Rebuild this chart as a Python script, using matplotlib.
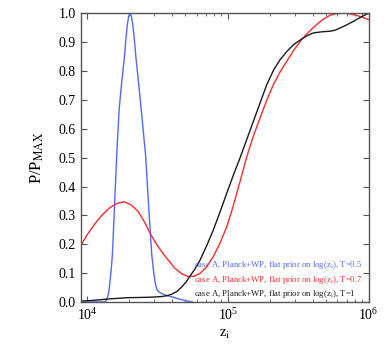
import numpy as np
import matplotlib
matplotlib.use("Agg")
import matplotlib.pyplot as plt

plt.rcParams['font.family'] = ['Liberation Serif', 'DejaVu Serif']
plt.rcParams['mathtext.fontset'] = 'stix'

logz_05 = [3.957, 4.10, 4.128, 4.140, 4.150, 4.158, 4.166, 4.173, 4.180, 4.188,
           4.196, 4.204, 4.211, 4.220, 4.229, 4.247, 4.265, 4.276, 4.286, 4.296,
           4.3055, 4.315, 4.325, 4.335, 4.348, 4.366, 4.384, 4.400, 4.416, 4.427,
           4.438, 4.449, 4.460, 4.472, 4.483, 4.492, 4.500, 4.520, 4.550, 4.602,
           4.650, 4.696, 4.75]
p_05 = [0.0, 0.0, 0.0, 0.008, 0.025, 0.047, 0.085, 0.12, 0.163, 0.25,
        0.34, 0.43, 0.51, 0.595, 0.672, 0.765, 0.845, 0.91, 0.96, 0.99,
        1.0, 0.99, 0.96, 0.915, 0.845, 0.76, 0.672, 0.59, 0.51, 0.42,
        0.33, 0.245, 0.163, 0.11, 0.07, 0.05, 0.04, 0.032, 0.025, 0.018,
        0.011, 0.005, 0.0]

logz_07 = [3.957, 4.000, 4.057, 4.110, 4.163, 4.215, 4.265, 4.315, 4.364, 4.405,
           4.448, 4.490, 4.531, 4.580, 4.625, 4.675, 4.720, 4.760, 4.803, 4.850,
           4.897, 4.945, 4.993, 5.030, 5.064, 5.100, 5.133, 5.180, 5.229, 5.276,
           5.324, 5.372, 5.419, 5.470, 5.525, 5.580, 5.632, 5.680, 5.726, 5.760,
           5.798, 5.835, 5.869, 5.905, 5.940, 5.970, 6.0]
p_07 = [0.197, 0.232, 0.272, 0.303, 0.327, 0.342, 0.347, 0.336, 0.313, 0.280,
        0.238, 0.203, 0.174, 0.143, 0.117, 0.097, 0.088, 0.089, 0.099, 0.122,
        0.157, 0.204, 0.261, 0.318, 0.377, 0.440, 0.500, 0.572, 0.637, 0.698,
        0.753, 0.797, 0.834, 0.873, 0.909, 0.938, 0.961, 0.980, 0.993, 0.998,
        1.0, 1.0, 0.998, 0.994, 0.989, 0.984, 0.978]

logz_1 = [3.957, 4.057, 4.163, 4.230, 4.293, 4.350, 4.412, 4.470, 4.531, 4.570,
          4.602, 4.640, 4.673, 4.705, 4.732, 4.768, 4.803, 4.850, 4.897, 4.945,
          4.993, 5.040, 5.087, 5.135, 5.182, 5.230, 5.277, 5.325, 5.371, 5.420,
          5.466, 5.525, 5.570, 5.608, 5.670, 5.726, 5.765, 5.798, 5.845, 5.892,
          5.950, 6.0]
p_1 = [0.003, 0.006, 0.011, 0.013, 0.015, 0.0155, 0.016, 0.017, 0.019, 0.022,
       0.027, 0.037, 0.052, 0.070, 0.090, 0.115, 0.145, 0.195, 0.249, 0.312,
       0.377, 0.440, 0.499, 0.563, 0.626, 0.690, 0.753, 0.803, 0.839, 0.868,
       0.891, 0.911, 0.924, 0.932, 0.936, 0.938, 0.942, 0.949, 0.960, 0.972,
       0.988, 1.0]

labels = ["case A, Planck+WP, flat prior on log(z$_{\\rm i}$), T=0.5",
          "case A, Planck+WP, flat prior on log(z$_{\\rm i}$), T=0.7",
          "case A, Planck+WP, flat prior on log(z$_{\\rm i}$), T=1"]
colors = ['#5068ff', '#ff2a2a', '#1a1a1a']

fig = plt.figure(figsize=(3.86, 3.55), dpi=100)
ax = fig.add_axes([0.2098, 0.1493, 0.7449, 0.8132])

series = [(logz_05, p_05), (logz_07, p_07), (logz_1, p_1)]
for (lz, p), lab, c in zip(series, labels, colors):
    ax.plot(10 ** np.array(lz), p, color=c, lw=1.0, label=lab)

ax.set_xscale('log')
ax.set_xlim(10 ** 3.957, 1e6)
ax.set_ylim(0, 1.0)
ax.set_yticks(np.arange(0, 1.01, 0.1))
ax.set_yticklabels(["%.1f" % v for v in np.arange(0, 1.01, 0.1)])

ax.tick_params(which='both', direction='in', top=True, right=True,
               labelsize=10, color='#555555')
ax.tick_params(which='major', length=4.5)
ax.tick_params(which='minor', length=2.5)
for s in ax.spines.values():
    s.set_color('#555555')
    s.set_linewidth(1.0)

ax.set_xlabel("z$_{\\rm i}$", fontsize=10.5)
ax.set_ylabel("P/P$_{\\rm MAX}$", fontsize=12)
ax.yaxis.set_label_coords(-0.12, 0.5)

leg = ax.legend(loc='lower right', bbox_to_anchor=(0.985, 0.0), frameon=False,
                handlelength=0, handletextpad=0, borderaxespad=0, borderpad=0.2,
                labelspacing=0.3, fontsize=6.3)
for h in leg.legend_handles:
    h.set_visible(False)
for t, c in zip(leg.get_texts(), colors):
    t.set_color(c)

fig.savefig("out.png", dpi=100)
